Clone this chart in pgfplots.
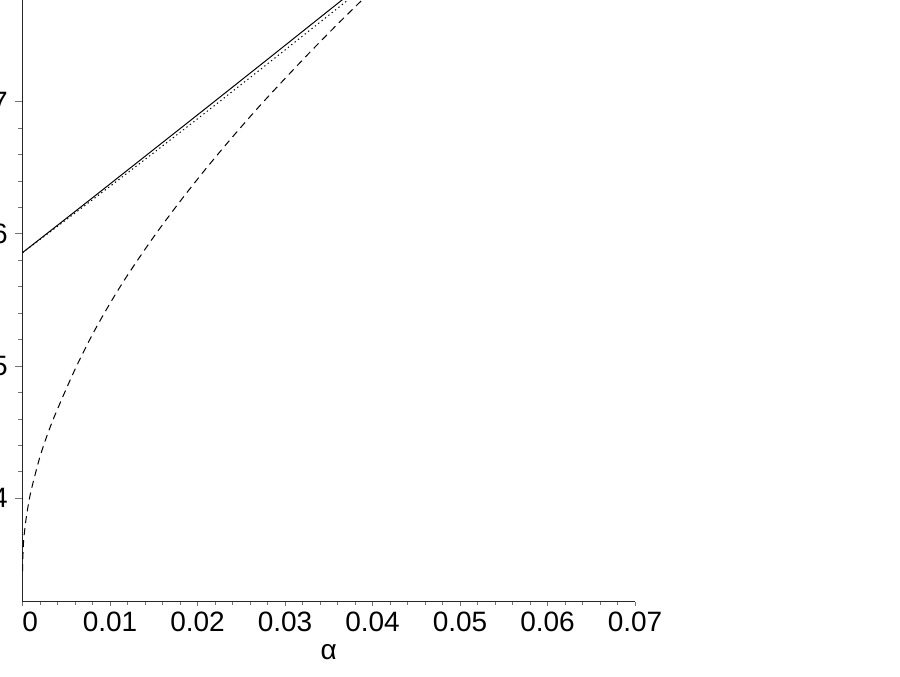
\documentclass[border=0pt]{standalone}
\usepackage{pgfplots}
\pgfplotsset{compat=1.18}
\usepackage{fontspec}
\setmainfont{Liberation Sans}
\begin{document}
\begin{tikzpicture}
\begin{axis}[
  at={(22.5bp,75.3bp)}, anchor=south west,
  scale only axis, width=612.5bp, height=601.7bp,
  xmin=0, xmax=0.07, ymin=0.3218, ymax=0.7769,
  axis lines*=left,
  axis line style={black!85, line width=1.1bp},
  scaled x ticks=false, scaled y ticks=false,
  xtick={0,0.01,0.02,0.03,0.04,0.05,0.06,0.07},
  xticklabels={{\makebox[0pt][l]{0}},0.01,0.02,0.03,0.04,0.05,0.06,0.07},
  ytick={0.4,0.5,0.6,0.7},
  yticklabels={0.4,0.5,0.6,0.7},
  minor x tick num=4, minor y tick num=4,
  tick align=outside,
  major tick length=7.7bp, minor tick length=5bp,
  tick style={black!55, line width=0.9bp},
  xtick style={/pgfplots/major tick length=4.5bp, /pgfplots/minor tick length=3.5bp},
  ticklabel style={font=\fontsize{28bp}{32bp}\selectfont, inner sep=0pt},
  xticklabel style={anchor=base, yshift=-21.8bp},
  yticklabel style={anchor=east, xshift=-6.8bp},
  xlabel={α},
  xlabel style={at={(rel axis cs:0.5,0)}, anchor=base, yshift=-57.3bp, inner sep=0pt, font=\fontsize{28bp}{32bp}\selectfont},
]
\addplot[black, line width=1bp] coordinates {
(0,0.5858) (0.004,0.6065) (0.008,0.6273) (0.012,0.6482) (0.016,0.6691)
(0.020,0.6900) (0.024,0.7110) (0.028,0.7320) (0.032,0.7531) (0.036,0.7742) (0.040,0.7954)
};
\addplot[black, line width=1bp, dash pattern=on 1.3bp off 3bp] coordinates {
(0,0.5858) (0.004,0.6057) (0.008,0.6258) (0.012,0.6461) (0.016,0.6665)
(0.020,0.6870) (0.024,0.7078) (0.028,0.7286) (0.032,0.7496) (0.036,0.7706) (0.040,0.7917)
};
\addplot[black, line width=1bp, dash pattern=on 7bp off 5bp, smooth, tension=0.5] coordinates {
(0,0.345) (0.0001,0.3651) (0.0003,0.3788) (0.0006,0.3926) (0.001,0.4063)
(0.002,0.4315) (0.003,0.4510) (0.004,0.4675) (0.006,0.4975) (0.008,0.5240)
(0.010,0.5474) (0.012,0.5687) (0.015,0.5978) (0.018,0.6245) (0.021,0.6496)
(0.024,0.6733) (0.027,0.6960) (0.030,0.7175) (0.033,0.7384) (0.036,0.7586)
(0.039,0.7781) (0.042,0.7972)
};
\end{axis}
\pgfresetboundingbox
\useasboundingbox (0,0) rectangle (900bp,677bp);
\end{tikzpicture}
\end{document}
